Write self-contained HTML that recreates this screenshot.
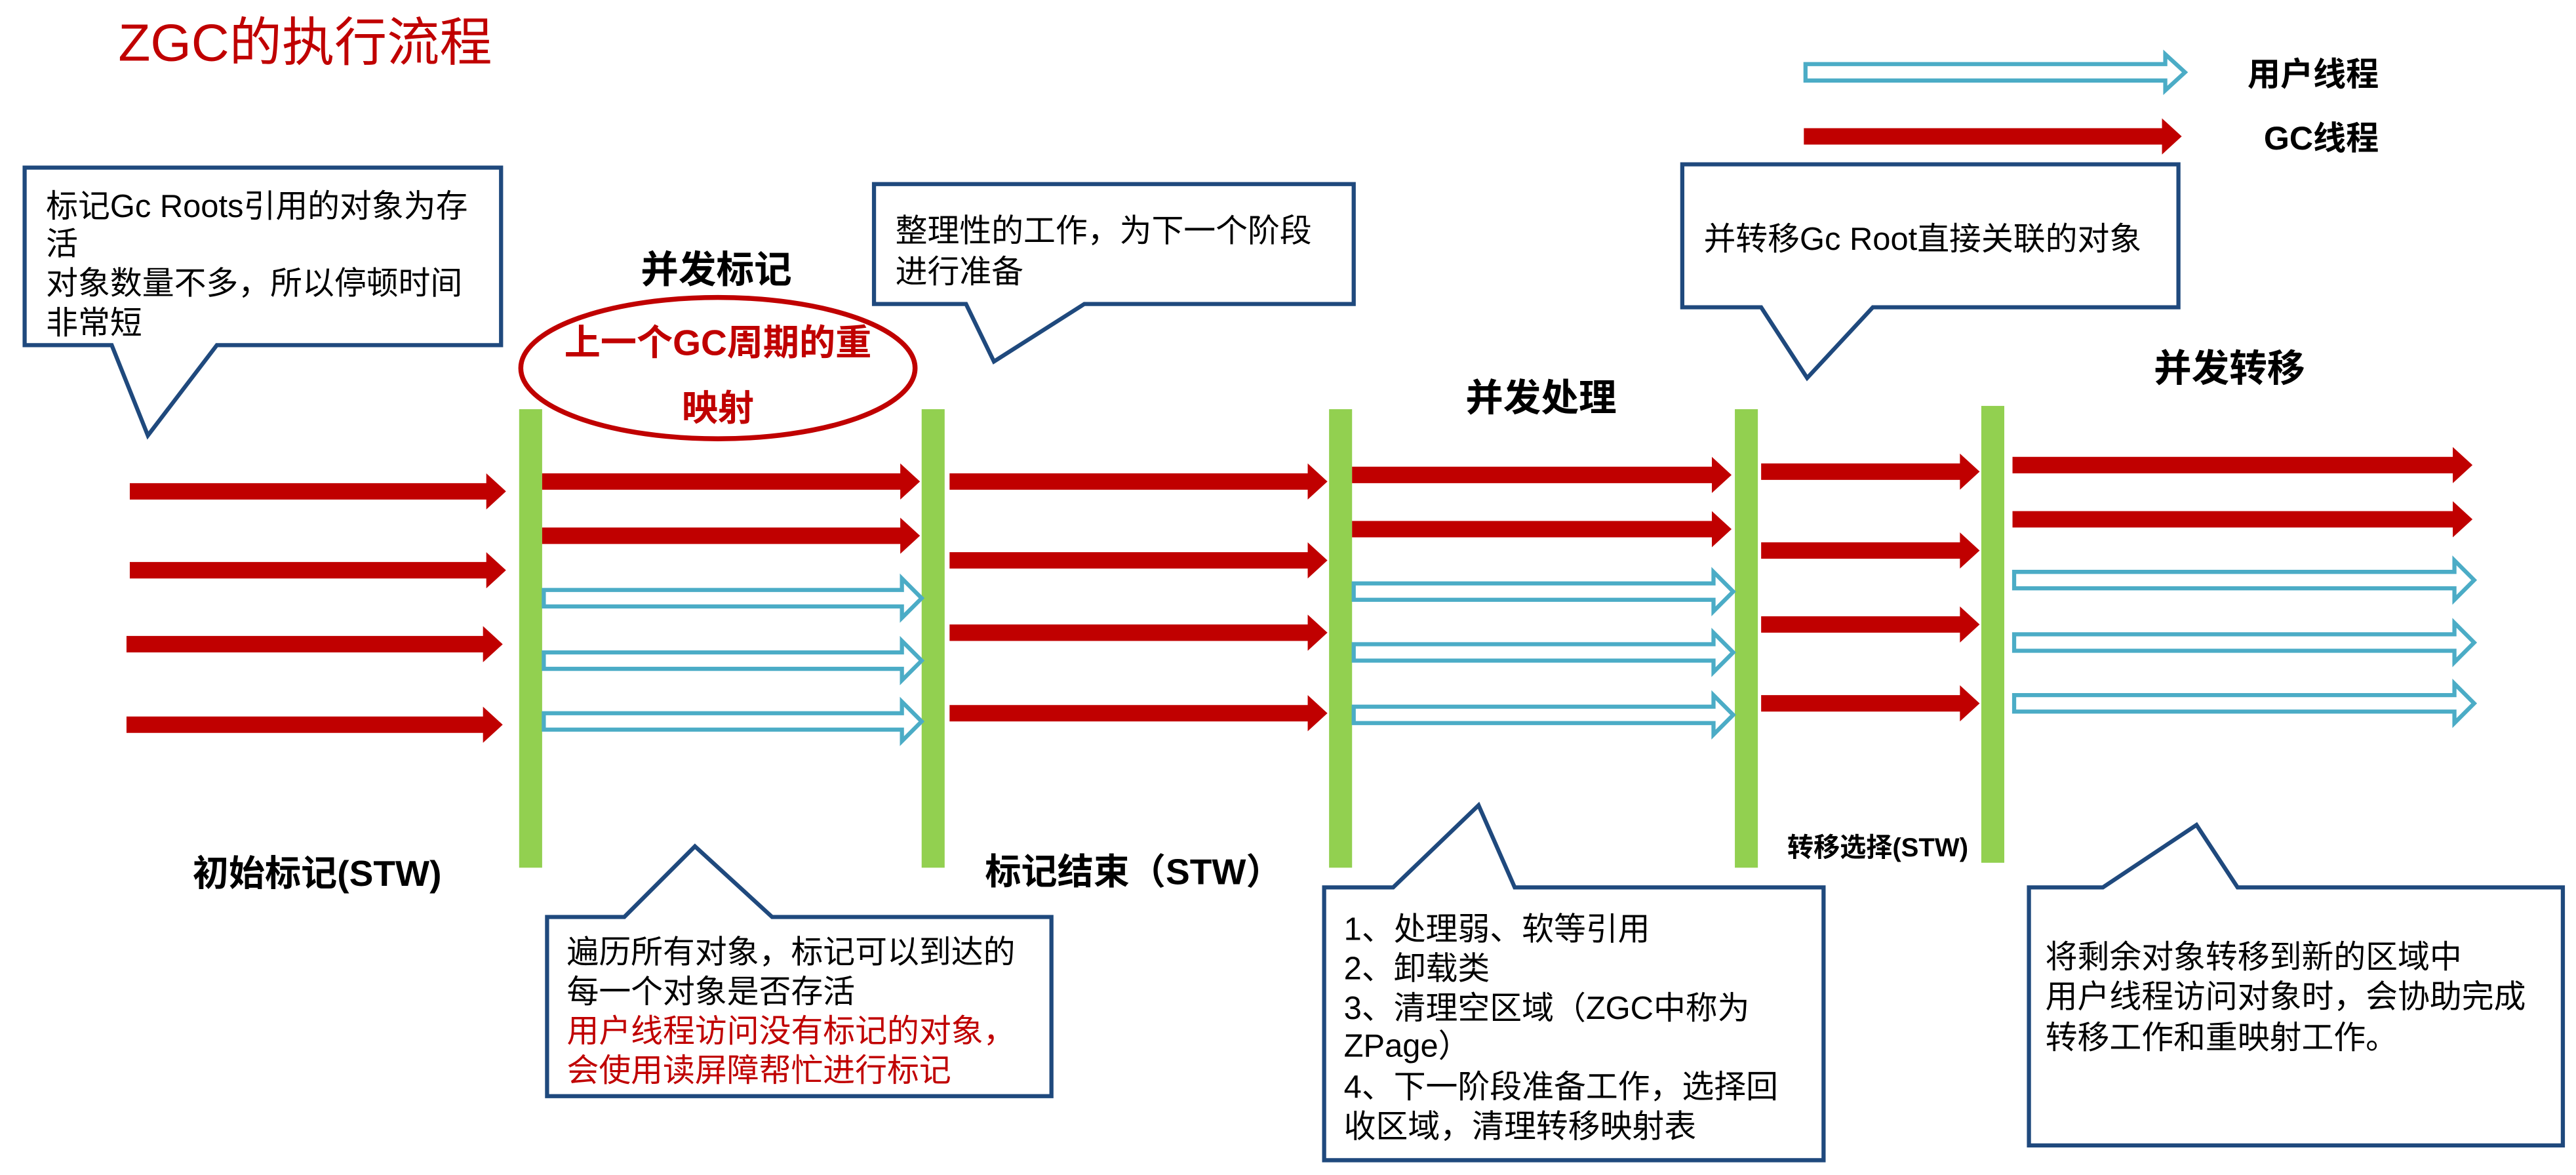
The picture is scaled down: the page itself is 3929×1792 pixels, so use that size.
<!DOCTYPE html>
<html><head><meta charset="utf-8"><style>
html,body{margin:0;padding:0;background:#fff;}
svg{display:block;}
text{font-family:"Liberation Sans","Noto Sans CJK SC",sans-serif;}
</style></head><body>
<svg width="3929" height="1792" viewBox="0 0 1568 715" preserveAspectRatio="none" xmlns="http://www.w3.org/2000/svg">
<text x="72" y="37" font-size="32" fill="#c00000">ZGC的执行流程</text>

<!-- legend -->
<polygon points="1099,39 1318,39 1318,33 1330,44 1318,55 1318,49 1099,49" fill="#fff" stroke="#4bacc6" stroke-width="2.5"/>
<text x="1368" y="52" font-size="20" font-weight="bold">用户线程</text>
<polygon points="1098,78 1316,78 1316,72 1328,83 1316,94 1316,88 1098,88" fill="#c00000"/>
<text x="1378" y="91" font-size="20" font-weight="bold">GC线程</text>

<!-- callouts -->
<g fill="#fff" stroke="#1f497d" stroke-width="2.5">
<polygon points="15,102 305,102 305,210 132,210 90,265 68,210 15,210"/>
<polygon points="532,112 824,112 824,185 660,185 605,220 588,185 532,185"/>
<polygon points="1024,100 1326,100 1326,187 1140,187 1100,230 1072,187 1024,187"/>
<polygon points="333,558 380,558 423,515 470,558 640,558 640,667 333,667"/>
<polygon points="806,540 848,540 900,490 922,540 1110,540 1110,706 806,706"/>
<polygon points="1235,540 1280,540 1337,502 1362,540 1560,540 1560,697 1235,697"/>
</g>
<g font-size="19.5" fill="#000">
<text x="28" y="132">标记Gc Roots引用的对象为存</text>
<text x="28" y="155">活</text>
<text x="28" y="179">对象数量不多，所以停顿时间</text>
<text x="28" y="203">非常短</text>
<text x="545" y="147">整理性的工作，为下一个阶段</text>
<text x="545" y="172">进行准备</text>
<text x="1037" y="152">并转移Gc Root直接关联的对象</text>
<text x="345" y="586">遍历所有对象，标记可以到达的</text>
<text x="345" y="610">每一个对象是否存活</text>
<text x="345" y="634" fill="#c00000">用户线程访问没有标记的对象，</text>
<text x="345" y="658" fill="#c00000">会使用读屏障帮忙进行标记</text>
<text x="818" y="572">1、处理弱、软等引用</text>
<text x="818" y="596">2、卸载类</text>
<text x="818" y="620">3、清理空区域（ZGC中称为</text>
<text x="818" y="643">ZPage）</text>
<text x="818" y="668">4、下一阶段准备工作，选择回</text>
<text x="818" y="692">收区域，清理转移映射表</text>
<text x="1245" y="589">将剩余对象转移到新的区域中</text>
<text x="1245" y="613">用户线程访问对象时，会协助完成</text>
<text x="1245" y="638">转移工作和重映射工作。</text>
</g>

<!-- headings -->
<g font-size="23" font-weight="bold" text-anchor="middle">
<text x="436" y="172">并发标记</text>
<text x="938" y="250">并发处理</text>
<text x="1357" y="232">并发转移</text>
<text x="193" y="539" font-size="22">初始标记(STW)</text>
<text x="690" y="538" font-size="22">标记结束（STW）</text>
<text x="1143" y="521" font-size="16">转移选择(STW)</text>
</g>

<ellipse cx="437" cy="224" rx="120" ry="43" fill="#fff" stroke="#c00000" stroke-width="3"/>
<text x="437" y="216" font-size="22" font-weight="bold" fill="#c00000" text-anchor="middle">上一个GC周期的重</text>
<text x="437" y="256" font-size="22" font-weight="bold" fill="#c00000" text-anchor="middle">映射</text>

<!-- green bars -->
<g fill="#92d050">
<rect x="316" y="249" width="14" height="279"/>
<rect x="561" y="249" width="14" height="279"/>
<rect x="809" y="249" width="14" height="279"/>
<rect x="1056" y="249" width="14" height="279"/>
<rect x="1206" y="247" width="14" height="278"/>
</g>

<!-- red arrows -->
<g fill="#c00000">
<polygon points="79,294 296,294 296,288 308,299 296,310 296,304 79,304"/>
<polygon points="79,342 296,342 296,336 308,347 296,358 296,352 79,352"/>
<polygon points="77,387 294,387 294,381 306,392 294,403 294,397 77,397"/>
<polygon points="77,436 294,436 294,430 306,441 294,452 294,446 77,446"/>
<polygon points="330,288 548,288 548,282 560,293 548,304 548,298 330,298"/>
<polygon points="330,321 548,321 548,315 560,326 548,337 548,331 330,331"/>
<polygon points="578,288 796,288 796,282 808,293 796,304 796,298 578,298"/>
<polygon points="578,336 796,336 796,330 808,341 796,352 796,346 578,346"/>
<polygon points="578,380 796,380 796,374 808,385 796,396 796,390 578,390"/>
<polygon points="578,429 796,429 796,423 808,434 796,445 796,439 578,439"/>
<polygon points="823,284 1042,284 1042,278 1054,289 1042,300 1042,294 823,294"/>
<polygon points="823,317 1042,317 1042,311 1054,322 1042,333 1042,327 823,327"/>
<polygon points="1072,282 1193,282 1193,276 1205,287 1193,298 1193,292 1072,292"/>
<polygon points="1072,330 1193,330 1193,324 1205,335 1193,346 1193,340 1072,340"/>
<polygon points="1072,375 1193,375 1193,369 1205,380 1193,391 1193,385 1072,385"/>
<polygon points="1072,423 1193,423 1193,417 1205,428 1193,439 1193,433 1072,433"/>
<polygon points="1225,278 1493,278 1493,272 1505,283 1493,294 1493,288 1225,288"/>
<polygon points="1225,311 1493,311 1493,305 1505,316 1493,327 1493,321 1225,321"/>
</g>
<!-- blue hollow arrows -->
<g fill="#fff" stroke="#4bacc6" stroke-width="2.5">
<polygon points="331,359 549,359 549,352 561,364 549,376 549,369 331,369"/>
<polygon points="331,397 549,397 549,390 561,402 549,414 549,407 331,407"/>
<polygon points="331,434 549,434 549,427 561,439 549,451 549,444 331,444"/>
<polygon points="824,355 1043,355 1043,348 1055,360 1043,372 1043,365 824,365"/>
<polygon points="824,392 1043,392 1043,385 1055,397 1043,409 1043,402 824,402"/>
<polygon points="824,430 1043,430 1043,423 1055,435 1043,447 1043,440 824,440"/>
<polygon points="1226,348 1494,348 1494,341 1506,353 1494,365 1494,358 1226,358"/>
<polygon points="1226,386 1494,386 1494,379 1506,391 1494,403 1494,396 1226,396"/>
<polygon points="1226,423 1494,423 1494,416 1506,428 1494,440 1494,433 1226,433"/>
</g>
</svg>
</body></html>
